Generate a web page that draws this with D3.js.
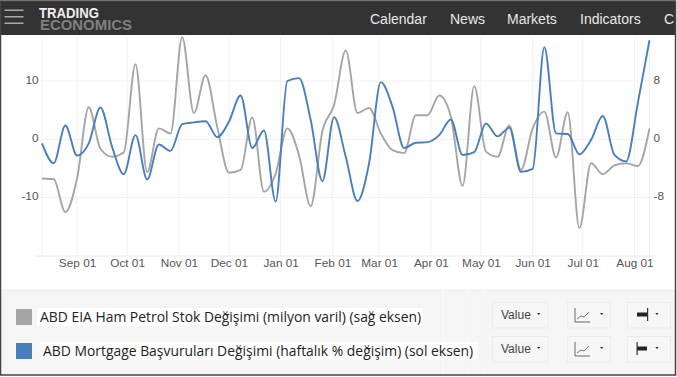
<!DOCTYPE html>
<html>
<head>
<meta charset="utf-8">
<script src="https://cdn.jsdelivr.net/npm/d3@7"></script>
<style>
html, body { margin: 0; padding: 0; background: #fff; }
svg { display: block; font-family: "Liberation Sans", Arial, sans-serif; }
.axis path, .axis line { display: none; }
.axis text { fill: #555; font-size: 11.8px; }
.grid line { stroke: #f1f1f1; stroke-width: 1; }
.menu { fill: #e8e8e8; font-size: 14px; }
.legend { fill: #222; font-family: "Open Sans", sans-serif; font-size: 13.9px; }
.btn { fill: #f6f6f6; stroke: #ebebeb; }
.btntext { fill: #444; font-size: 12px; }
</style>
</head>
<body>
<div class="canvas"></div>
<script>
var width = 677;
var height = 377;

var dates = [
  '2017-08-11','2017-08-18','2017-08-25','2017-09-01','2017-09-08','2017-09-15','2017-09-22','2017-09-29',
  '2017-10-06','2017-10-13','2017-10-20','2017-10-27','2017-11-03','2017-11-10','2017-11-17','2017-11-24',
  '2017-12-01','2017-12-08','2017-12-15','2017-12-22','2017-12-29','2018-01-05','2018-01-12','2018-01-19',
  '2018-01-26','2018-02-02','2018-02-09','2018-02-16','2018-02-23','2018-03-02','2018-03-09','2018-03-16',
  '2018-03-23','2018-03-30','2018-04-06','2018-04-13','2018-04-20','2018-04-27','2018-05-04','2018-05-11',
  '2018-05-18','2018-05-25','2018-06-01','2018-06-08','2018-06-15','2018-06-22','2018-06-29','2018-07-06',
  '2018-07-13','2018-07-20','2018-07-27','2018-08-03','2018-08-10'
];
// sol eksen
var mortgage = [
  -0.7,-4.1,2.35,-2.8,-0.7,5.45,-1.3,-6.0,0.7,-6.9,-0.9,-2.0,2.6,2.9,3.1,0.35,3.0,7.5,-1.5,1.5,-10.7,
  10,10.5,3.3,-7.2,3.8,-3,-10.6,-4.1,9.8,5.6,-1.5,-0.6,-0.5,0.7,3.4,-2.7,-2.2,2.7,0.5,2.0,-5.6,-5.1,
  15.8,1,0.9,-2.6,-0.1,4.0,-2.7,-3.8,6.2,17
];
// sag eksen
var crude = [
  -5.4,-5.5,-10,-5.4,4.4,-1.3,-2.4,-1.8,10.3,-4.5,1.5,0.8,14,3.6,8.8,1.7,-4.6,-4.2,3.0,-7.2,-4.7,
  1.5,-2.2,-9.2,1.1,4.7,12.2,3.6,4.3,0.8,-1.5,-1.9,3.3,3.3,6,3.1,-6.4,7.3,-1.7,-2.4,1.9,-4.2,1.5,
  3.8,-2.5,3.7,-12.2,-3.3,-4.8,-3.6,-3.3,-3.7,1.5
];
var menuItems = ['Calendar', 'News', 'Markets', 'Indicators', 'C'];
var menuX = [370, 450, 507, 580, 664];
var leftTicks = [-10, 0, 10];
var rightTicks = [-8, 0, 8];
var legendLabels = ['ABD EIA Ham Petrol Stok Değişimi (milyon varil) (sağ eksen)',
                    'ABD Mortgage Başvuruları Değişimi (haftalık % değişim) (sol eksen)'];
var colours = ['#a5a5a5', '#4a7ebb'];

var parseDate = d3.utcParse('%Y-%m-%d');
var days = dates.map(parseDate);

var svg = d3.select('.canvas')
  .append('svg')
  .attr('width', width)
  .attr('height', height);

var xscale = d3.scaleUtc()
  .domain(d3.extent(days))
  .range([42, 649.5]);
var yleft = d3.scaleLinear().domain([-10, 10]).range([197.5, 81]);
var yright = d3.scaleLinear().domain([-8, 8]).range([197.5, 81]);

// grid
var monthTicks = d3.utcMonth.range(d3.utcMonth.ceil(days[0]), days[days.length - 1]);
var grid = svg.append('g').attr('class', 'grid');
grid.selectAll('.v')
  .data([days[0]].concat(monthTicks, [days[days.length - 1]]))
  .enter().append('line')
  .attr('x1', function(d) { return xscale(d); })
  .attr('x2', function(d) { return xscale(d); })
  .attr('y1', 36).attr('y2', 256);
grid.selectAll('.h')
  .data(leftTicks)
  .enter().append('line')
  .attr('x1', 36).attr('x2', 650)
  .attr('y1', function(d) { return yleft(d); })
  .attr('y2', function(d) { return yleft(d); });
grid.append('line').attr('x1', 35).attr('x2', 657).attr('y1', 256).attr('y2', 256).style('stroke', '#e8e8e8');

// axes, with plain hyphen on the negative labels
svg.append('g')
  .attr('class', 'axis')
  .attr('transform', 'translate(0,256)')
  .call(d3.axisBottom(xscale).tickValues(monthTicks).tickSize(0).tickFormat(d3.utcFormat('%b %d')));
svg.append('g')
  .attr('class', 'axis')
  .attr('transform', 'translate(41.5,-1.5)')
  .call(d3.axisLeft(yleft).tickValues(leftTicks).tickSize(0).tickFormat(String));
svg.append('g')
  .attr('class', 'axis')
  .attr('transform', 'translate(650.5,-1.5)')
  .call(d3.axisRight(yright).tickValues(rightTicks).tickSize(0).tickFormat(String));

// lines
var line = d3.line().curve(d3.curveMonotoneX);
svg.append('path')
  .attr('d', line.x(function(d, i) { return xscale(days[i]); }).y(function(d) { return yright(d); })(crude))
  .attr('fill', 'none').attr('stroke', colours[0]).attr('stroke-width', 1.9);
svg.append('path')
  .attr('d', line.x(function(d, i) { return xscale(days[i]); }).y(function(d) { return yleft(d); })(mortgage))
  .attr('fill', 'none').attr('stroke', colours[1]).attr('stroke-width', 1.9);

// header
svg.append('rect').attr('x', 0).attr('y', 1).attr('width', 675).attr('height', 34).attr('fill', '#333');
svg.append('g').selectAll('rect').data([9.5, 16, 22.5]).enter().append('rect')
  .attr('x', 4.5).attr('y', function(d) { return d; }).attr('width', 19).attr('height', 1.5).attr('fill', '#aaa');
svg.append('text').attr('x', 39).attr('y', 17.5).attr('fill', '#eee')
  .attr('textLength', 60).attr('lengthAdjust', 'spacingAndGlyphs')
  .style('font-size', '14px').style('font-weight', 'bold').text('TRADING');
svg.append('text').attr('x', 40).attr('y', 29.5).attr('fill', '#808080')
  .attr('textLength', 92).attr('lengthAdjust', 'spacingAndGlyphs')
  .style('font-size', '15.5px').style('font-weight', 'bold').text('ECONOMICS');
svg.selectAll('.menu').data(menuItems).enter().append('text')
  .attr('class', 'menu')
  .attr('x', function(d, i) { return menuX[i]; })
  .attr('y', 24)
  .text(function(d) { return d; });

// legend panel
svg.append('rect').attr('x', 0).attr('y', 290).attr('width', 675).attr('height', 85).attr('fill', '#f5f5f5').attr('stroke', '#eee');
[442.5, 467.5, 483.5].forEach(function(sx) {
  svg.append('rect').attr('x', sx).attr('y', 290).attr('width', 1).attr('height', 85).attr('fill', '#fbfbfb');
});
var rows = [309, 343];
var textX = [40, 43];
var boxW = [386, 438];
rows.forEach(function(y, i) {
  svg.append('rect').attr('x', 16).attr('y', y).attr('width', 16).attr('height', 16).attr('fill', colours[i]);
  svg.append('rect').attr('x', textX[i] - 3).attr('y', y - 1).attr('width', boxW[i]).attr('height', 18).attr('fill', '#fff');
  svg.append('text').attr('class', 'legend').attr('x', textX[i]).attr('y', y + 13).text(legendLabels[i]);

  var top = y - 6.5;
  [[492.5, 55.5], [567.5, 43], [627.5, 43]].forEach(function(b) {
    svg.append('rect').attr('class', 'btn').attr('x', b[0]).attr('y', top).attr('width', b[1]).attr('height', 25.5);
  });
  svg.append('text').attr('class', 'btntext').attr('x', 501).attr('y', y + 9.5).text('Value');

  // carets
  [538.7, 601.7, 657].forEach(function(cx) {
    svg.append('path').attr('d', d3.line()([[cx - 1.7, y + 4], [cx + 1.7, y + 4], [cx, y + 6]])).attr('fill', '#333');
  });

  // chart type icon
  svg.append('path').attr('d', d3.line()([[575, y - 1], [575, y + 13], [590, y + 13]]))
    .attr('fill', 'none').attr('stroke', '#666').attr('stroke-width', 1);
  svg.append('path').attr('d', d3.line()([[577, y + 10], [581, y + 7], [584, y + 8], [589, y + 3]]))
    .attr('fill', 'none').attr('stroke', '#777').attr('stroke-width', 1);

  // axis side icon
  svg.append('rect').attr('x', 637).attr('y', y + 3.5).attr('width', 10).attr('height', 4).attr('fill', '#222');
  svg.append('rect').attr('x', i ? 636.5 : 647).attr('y', y - 1).attr('width', 1.2).attr('height', 13).attr('fill', '#333');
});

// frame
svg.append('rect').attr('x', 0.5).attr('y', 1).attr('width', 675).attr('height', 374)
  .attr('fill', 'none').attr('stroke', '#444').attr('stroke-width', 1.5);
</script>
</body>
</html>
